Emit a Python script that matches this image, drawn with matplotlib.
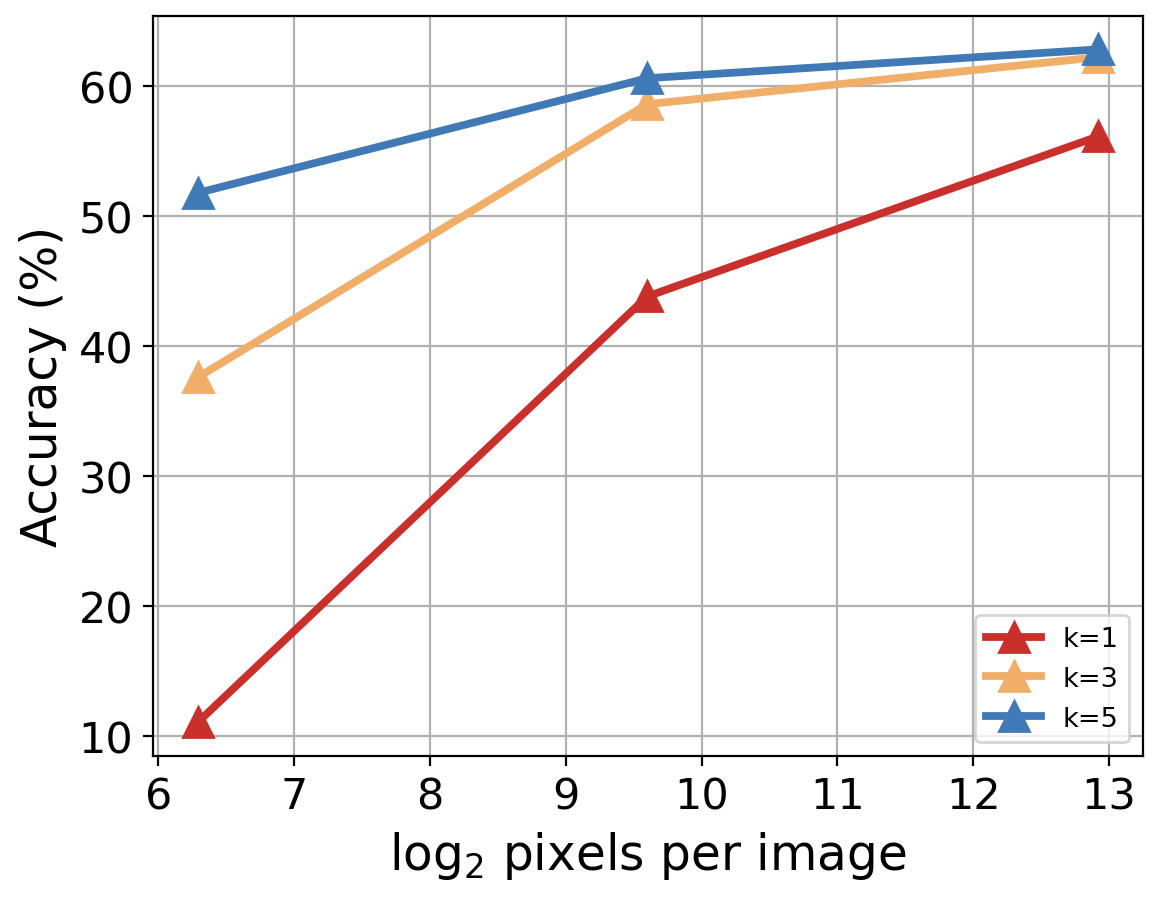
import matplotlib
matplotlib.use("Agg")
import matplotlib.pyplot as plt

x_vals = [6.29, 9.6, 12.92]
k1 = [11.05, 43.83, 56.15]
k3 = [37.6, 58.63, 62.25]
k5 = [51.8, 60.63, 62.85]
labels = ["k=1", "k=3", "k=5"]
colors = ["#c9302c", "#f1ae68", "#3f79b6"]

fig = plt.figure(figsize=(5.78, 4.52), dpi=200)
ax = fig.add_axes([0.1321, 0.1626, 0.8567, 0.8189])
for ys, lab, c in zip([k1, k3, k5], labels, colors):
    ax.plot(x_vals, ys, marker="^", color=c, lw=2.8, ms=10.5, label=lab)
ax.grid(True, color="#b0b0b0", lw=0.8)
ax.set_xticks(range(6, 14))
ax.set_yticks([10, 20, 30, 40, 50, 60])
ax.tick_params(labelsize=15.5)
ax.set_xlabel("log$_2$ pixels per image", fontsize=17.5)
ax.set_ylabel("Accuracy (%)", fontsize=17.5)
ax.legend(loc="lower right", fontsize=9.8)
fig.savefig("out.png", dpi=200)
